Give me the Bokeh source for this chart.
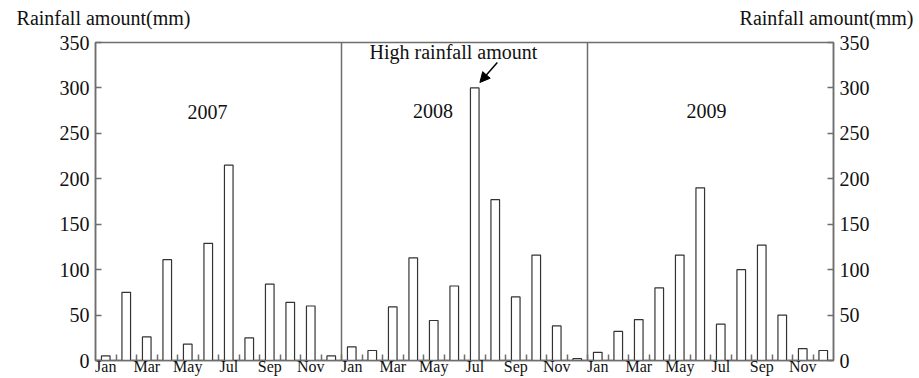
from bokeh.plotting import figure
from bokeh.models import (ColumnDataSource, LinearAxis, FixedTicker, Span, Label,
                          Arrow, NormalHead, Range1d)
from bokeh.embed import file_html
from bokeh.resources import INLINE

# ---- data ----
years = ["2007", "2008", "2009"]
months = ["Jan", "Feb", "Mar", "Apr", "May", "Jun",
          "Jul", "Aug", "Sep", "Oct", "Nov", "Dec"]
rain_2007 = [5, 75, 26, 111, 18, 129, 215, 25, 84, 64, 60, 5]
rain_2008 = [15, 11, 59, 113, 44, 82, 300, 177, 70, 116, 38, 2]
rain_2009 = [9, 32, 45, 80, 116, 190, 40, 100, 127, 50, 13, 11]
y_ticks = [0, 50, 100, 150, 200, 250, 300, 350]
y_title = "Rainfall amount(mm)"
note_text = "High rainfall amount"

FONT = "Liberation Serif"
AX = "#6e6e6e"
TXT = "#111111"

series = [rain_2007, rain_2008, rain_2009]
n_m = len(months)
xs, tops = [], []
for yi, vals in enumerate(series):
    for mi, v in enumerate(vals):
        xs.append(yi * n_m + mi + 0.5)
        tops.append(v)
src = ColumnDataSource(dict(x=xs, top=tops))

n_slots = n_m * len(years)

p = figure(width=919, height=378, output_backend="svg", toolbar_location=None,
           x_range=Range1d(0, n_slots), y_range=Range1d(0, 350),
           min_border_left=95, min_border_right=86, min_border_top=42,
           min_border_bottom=18)
p.background_fill_color = "white"
p.border_fill_color = "white"
p.outline_line_color = AX
p.outline_line_width = 1.5
p.xgrid.visible = False
p.ygrid.visible = False

p.vbar(x="x", top="top", width=0.42, bottom=0, source=src,
       fill_color="white", line_color="#333333", line_width=1.2)

# year dividers
for k in range(1, len(years)):
    p.add_layout(Span(location=k * n_m, dimension="height",
                      line_color=AX, line_width=1.5))

# x axis
major = []
overrides = {}
for yi in range(len(years)):
    for mi in range(0, n_m, 2):
        pos = yi * n_m + mi + 0.5
        major.append(pos)
        overrides[pos] = months[mi]
minor = [i for i in range(1, n_slots)]
xa = p.xaxis[0]
xa.ticker = FixedTicker(ticks=major, minor_ticks=minor)
xa.major_label_overrides = overrides
xa.major_tick_in = 0
xa.major_tick_out = 0
xa.minor_tick_in = 6
xa.minor_tick_out = 0
xa.minor_tick_line_color = AX
xa.minor_tick_line_width = 1.5
xa.axis_line_color = AX
xa.axis_line_width = 1.5
xa.major_label_standoff = -3
xa.major_label_text_font = FONT
xa.major_label_text_font_size = "16px"
xa.major_label_text_color = TXT

# y axes
def style_y(ax):
    ax.ticker = FixedTicker(ticks=y_ticks)
    ax.major_tick_in = 6
    ax.major_tick_out = 0
    ax.minor_tick_in = 0
    ax.minor_tick_out = 0
    ax.major_tick_line_color = AX
    ax.major_tick_line_width = 1.5
    ax.axis_line_color = AX
    ax.axis_line_width = 1.5
    ax.major_label_standoff = 6
    ax.major_label_text_font = FONT
    ax.major_label_text_font_size = "20px"
    ax.major_label_text_color = TXT

style_y(p.yaxis[0])
ra = LinearAxis()
style_y(ra)
p.add_layout(ra, "right")

# axis titles, via an unlined axis above the frame (pixel-like extra range)
p.extra_x_ranges = {"ttl": Range1d(95, 833)}
title_pos = [103, 826]
ta = LinearAxis(x_range_name="ttl", ticker=FixedTicker(ticks=title_pos, minor_ticks=[]))
ta.major_label_overrides = {title_pos[0]: y_title, title_pos[1]: y_title}
ta.axis_line_color = None
ta.major_tick_line_color = None
ta.minor_tick_line_color = None
ta.major_tick_in = 0
ta.major_tick_out = 0
ta.major_label_standoff = 14
ta.major_label_text_font = FONT
ta.major_label_text_font_size = "20px"
ta.major_label_text_color = TXT
p.add_layout(ta, "above")

# year labels
year_pos = [(5.46, 274), (16.46, 275), (29.8, 275)]
for (lx, ly), yr in zip(year_pos, years):
    p.add_layout(Label(x=lx, y=ly, text=yr, text_align="center",
                       text_baseline="middle", text_font=FONT,
                       text_font_size="20px", text_color=TXT))

# annotation
p.add_layout(Label(x=17.46, y=339, text=note_text, text_align="center",
                   text_baseline="middle", text_font=FONT,
                   text_font_size="20px", text_color=TXT))
p.add_layout(Arrow(x_start=19.6, y_start=328, x_end=18.75, y_end=306,
                   line_color="black", line_width=1.5,
                   end=NormalHead(size=10, fill_color="black", line_color="black")))

open("out.html", "w").write(file_html(p, INLINE))
